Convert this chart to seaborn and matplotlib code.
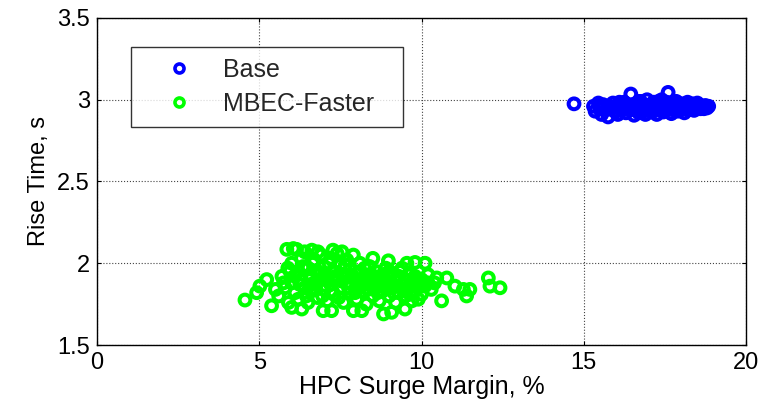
import numpy as np
import pandas as pd
import matplotlib
matplotlib.use("Agg")
import matplotlib.pyplot as plt
import seaborn as sns
from matplotlib.lines import Line2D

# ---- data ----
base_x = [14.70, 15.30, 15.35, 15.45, 15.50, 15.55, 15.60, 15.70, 15.75, 15.80,
          15.90, 15.95, 16.00, 16.05, 16.10, 16.20, 16.25, 16.30, 16.40, 16.45,
          16.50, 16.55, 16.60, 16.65, 16.70, 16.75, 16.80, 16.85, 16.90, 16.95,
          17.00, 17.05, 17.10, 17.15, 17.20, 17.25, 17.30, 17.35, 17.40, 17.45,
          17.50, 17.55, 17.60, 17.62, 17.70, 17.75, 17.80, 17.85, 17.90, 17.95,
          18.00, 18.05, 18.10, 18.15, 18.20, 18.25, 18.30, 18.35, 18.40, 18.45,
          18.50, 18.55, 18.60, 18.65, 18.70, 18.75, 18.80, 18.85,
          16.15, 16.35, 16.85, 17.05, 17.25, 17.45, 17.65, 17.85, 18.05, 18.25,
          15.50, 15.85, 16.00, 16.30, 16.60, 16.90, 17.20, 17.50, 17.80, 18.10,
          18.40, 18.70, 16.10, 16.70, 17.30, 17.90, 18.50]
base_y = [2.975, 2.96, 2.93, 2.98, 2.945, 2.91, 2.97, 2.94, 2.895, 2.96,
          2.98, 2.93, 2.955, 2.91, 2.97, 2.94, 2.985, 2.92, 2.96, 3.035,
          2.94, 2.905, 2.975, 2.95, 2.92, 2.99, 2.945, 2.965, 2.91, 3.00,
          2.94, 2.97, 2.925, 2.985, 2.95, 2.91, 2.97, 2.94, 3.00, 2.925,
          2.96, 2.985, 3.045, 2.94, 2.915, 2.97, 2.95, 2.99, 2.93, 2.96,
          2.945, 2.975, 2.92, 2.96, 2.985, 2.94, 2.955, 2.975, 2.935, 2.96,
          2.95, 2.97, 2.945, 2.96, 2.955, 2.965, 2.95, 2.96,
          2.955, 2.945, 2.93, 2.955, 2.965, 2.955, 2.96, 2.955, 2.95, 2.97,
          2.965, 2.945, 2.93, 2.97, 2.935, 2.96, 2.935, 2.94, 2.935, 2.945,
          2.95, 2.945, 2.985, 2.99, 2.99, 2.98, 2.98]

fast_x = [4.56, 4.92, 5.02, 5.23, 5.38, 5.85, 6.15, 5.88, 6.00, 6.31,
          6.62, 6.81, 7.27, 6.97, 7.23, 7.90, 8.16, 8.98, 8.83, 9.08,
          9.80, 10.11, 9.49, 9.90, 10.47, 10.78, 10.62, 11.03, 11.29, 11.49,
          11.39, 12.06, 12.11, 12.42,
          5.6, 5.7, 5.8, 5.9, 6.0, 6.0, 6.1, 6.2, 6.2, 6.3,
          6.3, 6.4, 6.5, 6.5, 6.6, 6.6, 6.7, 6.7, 6.8, 6.8,
          6.9, 6.9, 7.0, 7.0, 7.1, 7.1, 7.2, 7.2, 7.3, 7.3,
          7.4, 7.4, 7.5, 7.5, 7.6, 7.6, 7.7, 7.7, 7.8, 7.8,
          7.9, 7.9, 8.0, 8.0, 8.1, 8.1, 8.2, 8.2, 8.3, 8.3,
          8.4, 8.4, 8.5, 8.5, 8.6, 8.6, 8.7, 8.7, 8.8, 8.8,
          8.9, 8.9, 9.0, 9.0, 9.1, 9.1, 9.2, 9.2, 9.3, 9.3,
          9.4, 9.4, 9.5, 9.5, 9.6, 9.6, 9.7, 9.7, 9.8, 9.8,
          9.9, 10.0, 10.0, 10.2, 10.3,
          5.5, 6.4, 7.55, 8.5, 9.55, 10.2, 6.05, 5.95,
          6.25, 6.35, 6.45, 6.55, 6.65, 6.75, 6.85, 6.95, 7.05, 7.15,
          7.25, 7.35, 7.45, 7.55, 7.65, 7.75, 7.85, 7.95, 8.05, 8.15,
          8.25, 8.35, 8.45, 8.55, 8.65, 8.75, 8.85, 8.95, 9.05, 9.15,
          9.25, 9.35, 9.45, 9.55, 9.65, 9.75, 9.85, 10.1, 10.4, 6.1,
          5.75, 6.6, 7.0, 7.7, 8.3, 9.0]
fast_y = [1.775, 1.82, 1.86, 1.90, 1.74, 2.085, 2.085, 1.97, 1.73, 1.72,
          2.08, 2.07, 2.08, 1.71, 1.71, 1.71, 1.71, 2.015, 1.69, 1.70,
          2.005, 2.00, 1.72, 1.78, 1.91, 1.91, 1.77, 1.86, 1.84, 1.84,
          1.80, 1.91, 1.86, 1.85,
          1.80, 1.92, 1.85, 1.76, 1.88, 2.00, 1.82, 1.95, 1.78, 1.90,
          2.03, 1.85, 1.97, 1.76, 1.92, 1.83, 2.02, 1.88, 1.79, 1.95,
          1.90, 2.05, 1.84, 1.98, 1.92, 1.77, 2.03, 1.87, 1.95, 1.81,
          1.90, 2.06, 1.85, 1.99, 1.93, 1.76, 2.02, 1.88, 1.82, 1.96,
          1.91, 2.05, 1.86, 1.78, 1.95, 2.00, 1.89, 1.83, 1.93, 1.75,
          1.98, 1.87, 1.91, 1.80, 1.95, 1.85, 1.89, 1.77, 1.93, 1.83,
          1.87, 1.97, 1.80, 1.91, 1.85, 1.94, 1.89, 1.76, 1.92, 1.82,
          1.87, 1.97, 1.90, 1.80, 1.93, 1.85, 1.88, 1.77, 1.92, 1.83,
          1.87, 1.90, 1.81, 1.88, 1.84,
          1.84, 2.07, 2.07, 2.03, 2.00, 1.93, 2.09, 1.95,
          1.87, 1.98, 1.80, 1.90, 2.00, 1.84, 1.93, 1.80, 1.90, 2.00,
          1.83, 1.92, 1.79, 1.89, 1.99, 1.85, 1.93, 1.82, 1.90, 1.86,
          1.97, 1.84, 1.93, 1.88, 1.82, 1.91, 1.86, 1.94, 1.88, 1.82,
          1.86, 1.95, 1.84, 1.89, 1.81, 1.86, 1.90, 1.86, 1.88, 1.92,
          1.88, 1.87, 1.93, 1.92, 1.89, 1.86]

series_names = ["Base", "MBEC-Faster"]
x_ticks = [0, 5, 10, 15, 20]
y_ticks = [1.5, 2, 2.5, 3, 3.5]

df = pd.DataFrame({
    "x": base_x + fast_x,
    "y": base_y + fast_y,
    "case": [series_names[0]] * len(base_x) + [series_names[1]] * len(fast_x),
})

sns.set_theme(style="white")
plt.rcParams["font.family"] = ["Liberation Sans", "DejaVu Sans"]

fig = plt.figure(figsize=(7.63, 4.19), dpi=100)
ax = fig.add_axes([97 / 763, 1 - 345 / 419, (746 - 97) / 763, (345 - 18) / 419])

palette = {"Base": (0, 0, 1), "MBEC-Faster": (0, 1, 0)}
for name in series_names:
    sub = df[df["case"] == name]
    sns.scatterplot(data=sub, x="x", y="y", ax=ax, marker="o", s=60,
                    facecolors="none", edgecolor=palette[name], color=palette[name],
                    linewidth=2.9, label=name, legend=False)

ax.set_xlim(0, 20)
ax.set_ylim(1.5, 3.5)
ax.set_xticks(x_ticks)
ax.set_yticks(y_ticks)
ax.set_xticklabels([f"{t:g}" for t in x_ticks])
ax.set_yticklabels([f"{t:g}" for t in y_ticks])
ax.grid(True, linestyle=":", color="#444444", linewidth=0.8)
ax.set_axisbelow(True)
for sp in ax.spines.values():
    sp.set_color("black")
    sp.set_linewidth(1.0)
ax.tick_params(direction="in", length=3, width=0.8, colors="black",
               labelsize=17, top=True, right=True, bottom=True, left=True, pad=5)
ax.set_xlabel("HPC Surge Margin, %", fontsize=18, color="black", labelpad=1)
ax.set_ylabel("Rise Time, s", fontsize=17, color="black", labelpad=5)

handles = [Line2D([], [], linestyle="none", marker="o", markersize=6.5,
                  markerfacecolor="none", markeredgecolor=palette[n],
                  markeredgewidth=2.6) for n in series_names]
leg = fig.legend(handles, series_names, loc="upper left",
                 bbox_to_anchor=(131 / 763, 1 - 128 / 419, 272 / 763, 81 / 419),
                 mode="expand",
                 frameon=True, fancybox=False, fontsize=18,
                 handletextpad=0.28, handlelength=2.96, borderpad=0.45,
                 labelspacing=0.4, borderaxespad=0)
leg.get_frame().set_edgecolor("black")
leg.get_frame().set_linewidth(1.0)
leg.get_frame().set_facecolor("white")

fig.savefig("out.png", dpi=100)
